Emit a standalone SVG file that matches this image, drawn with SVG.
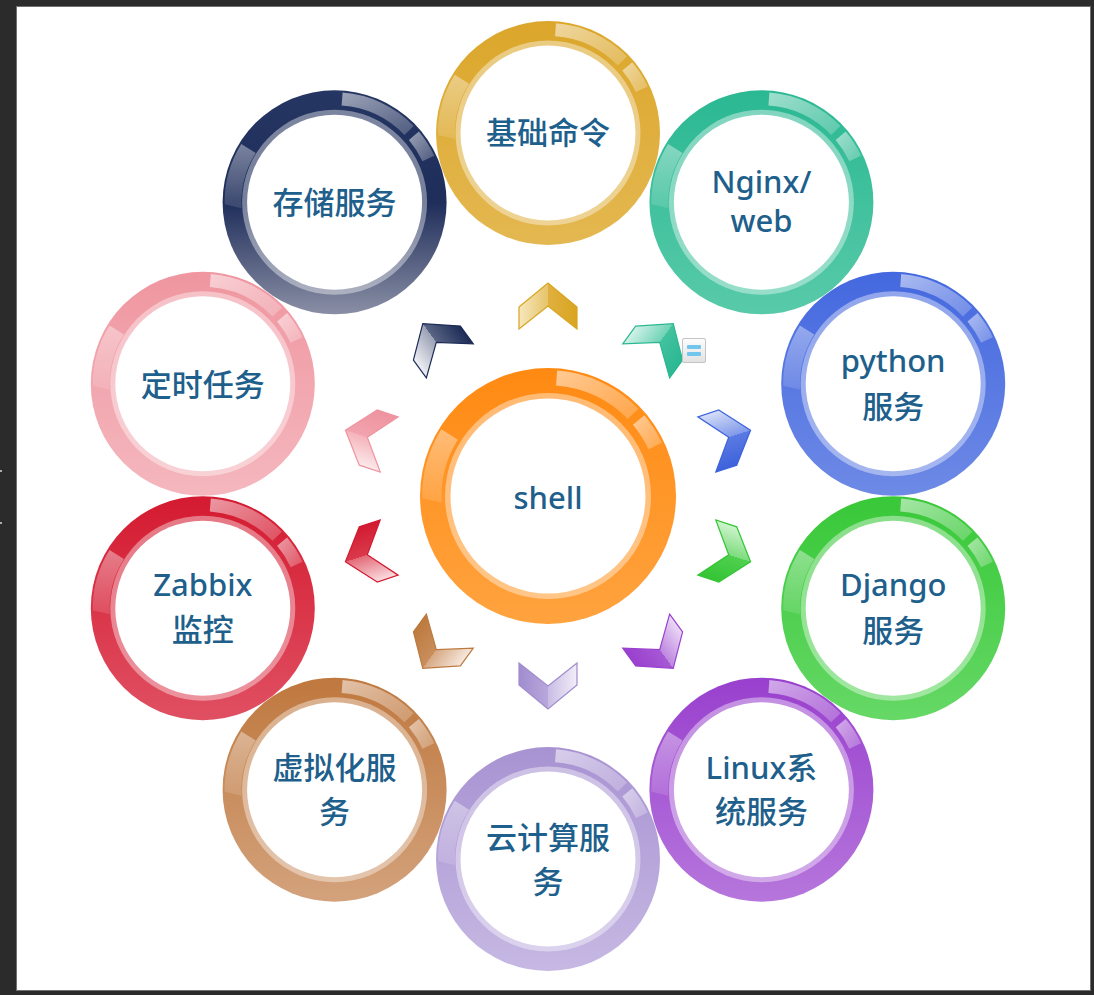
<svg xmlns="http://www.w3.org/2000/svg" xmlns:xlink="http://www.w3.org/1999/xlink" width="1094" height="995" viewBox="0 0 1094 995">
<style>
.t{font-family:"Noto Sans","Noto Sans CJK SC",sans-serif;font-size:31px;font-weight:500;fill:#1e5f8c;text-anchor:middle}
.lr{fill:#fff;opacity:0.4}
.w{fill:#fff}
</style>
<defs>
<linearGradient id="hl" x1="0" y1="0" x2="1" y2="1"><stop offset="0" stop-color="#fff" stop-opacity="0.55"/><stop offset="1" stop-color="#fff" stop-opacity="0.2"/></linearGradient>
<linearGradient id="hl2" x1="0" y1="1" x2="0" y2="0"><stop offset="0" stop-color="#fff" stop-opacity="0.12"/><stop offset="1" stop-color="#fff" stop-opacity="0.4"/></linearGradient>
<g id="gloss">
<path d="M8,-109.7 A110,110 0 0 1 79.1,-76.4 L69.8,-67.4 A97,97 0 0 0 7,-96.7 Z" fill="url(#hl)"/>
<path d="M84.3,-70.7 A110,110 0 0 1 99.7,-46.5 L87.9,-41 A97,97 0 0 0 74.3,-62.4 Z" fill="url(#hl)"/>
<path d="M-110,2 A110,110 0 0 1 -93.3,-58.3 L-78.9,-49.3 A93,93 0 0 0 -93,6 Z" fill="url(#hl2)"/>
</g>
<path id="chev" d="M-29,1 L0,-23 L29,1 L29,23 L0,0 L-29,23 Z"/>
<linearGradient id="r-gold" x1="0" y1="0" x2="0" y2="1"><stop offset="0" stop-color="#dba62a"/><stop offset="1" stop-color="#e4b851"/></linearGradient>
<linearGradient id="r-teal" x1="0" y1="0" x2="0" y2="1"><stop offset="0" stop-color="#2ab892"/><stop offset="1" stop-color="#58caa9"/></linearGradient>
<linearGradient id="r-blue" x1="0" y1="0" x2="0" y2="1"><stop offset="0" stop-color="#4468df"/><stop offset="1" stop-color="#6e8ae6"/></linearGradient>
<linearGradient id="r-green" x1="0" y1="0" x2="0" y2="1"><stop offset="0" stop-color="#38c838"/><stop offset="1" stop-color="#66d866"/></linearGradient>
<linearGradient id="r-purple" x1="0" y1="0" x2="0" y2="1"><stop offset="0" stop-color="#9940ce"/><stop offset="1" stop-color="#b676dc"/></linearGradient>
<linearGradient id="r-lav" x1="0" y1="0" x2="0" y2="1"><stop offset="0" stop-color="#a893d2"/><stop offset="1" stop-color="#c6b8e3"/></linearGradient>
<linearGradient id="r-tan" x1="0" y1="0" x2="0" y2="1"><stop offset="0" stop-color="#bf783e"/><stop offset="1" stop-color="#d3a27c"/></linearGradient>
<linearGradient id="r-red" x1="0" y1="0" x2="0" y2="1"><stop offset="0" stop-color="#d41a30"/><stop offset="1" stop-color="#e05062"/></linearGradient>
<linearGradient id="r-pink" x1="0" y1="0" x2="0" y2="1"><stop offset="0" stop-color="#ef96a0"/><stop offset="1" stop-color="#f5b7be"/></linearGradient>
<linearGradient id="r-navy" x1="0" y1="0" x2="0" y2="1"><stop offset="0" stop-color="#263663"/><stop offset="0.5" stop-color="#1e2d5a"/><stop offset="1" stop-color="#8a8fa5"/></linearGradient>
<linearGradient id="r-orange" x1="0" y1="0" x2="0" y2="1"><stop offset="0" stop-color="#ff8a12"/><stop offset="1" stop-color="#ffa33f"/></linearGradient>
<linearGradient id="c-gold" x1="0" y1="0" x2="1" y2="0"><stop offset="0" stop-color="#f6e7bd"/><stop offset="0.5" stop-color="#e6c46a"/><stop offset="0.5" stop-color="#e0b040"/><stop offset="1" stop-color="#d9a520"/></linearGradient>
<linearGradient id="c-teal" x1="0" y1="0" x2="1" y2="0"><stop offset="0" stop-color="#d2f2e8"/><stop offset="0.5" stop-color="#6fd3b6"/><stop offset="0.5" stop-color="#44c29f"/><stop offset="1" stop-color="#2ab892"/></linearGradient>
<linearGradient id="c-blue" x1="0" y1="0" x2="1" y2="0"><stop offset="0" stop-color="#d6def8"/><stop offset="0.5" stop-color="#8099ea"/><stop offset="0.5" stop-color="#5b7ae3"/><stop offset="1" stop-color="#3e62dc"/></linearGradient>
<linearGradient id="c-green" x1="0" y1="0" x2="1" y2="0"><stop offset="0" stop-color="#cff4cf"/><stop offset="0.5" stop-color="#7ddc7d"/><stop offset="0.5" stop-color="#50d050"/><stop offset="1" stop-color="#34c434"/></linearGradient>
<linearGradient id="c-purple" x1="0" y1="0" x2="1" y2="0"><stop offset="0" stop-color="#ecdaf6"/><stop offset="0.5" stop-color="#bd86e0"/><stop offset="0.5" stop-color="#a658d4"/><stop offset="1" stop-color="#9a40cf"/></linearGradient>
<linearGradient id="c-lav" x1="0" y1="0" x2="1" y2="0"><stop offset="0" stop-color="#f2eef9"/><stop offset="0.5" stop-color="#c9bce4"/><stop offset="0.5" stop-color="#b8a7db"/><stop offset="1" stop-color="#a08ccf"/></linearGradient>
<linearGradient id="c-tan" x1="0" y1="0" x2="1" y2="0"><stop offset="0" stop-color="#f6e9de"/><stop offset="0.5" stop-color="#d7a883"/><stop offset="0.5" stop-color="#c98e5c"/><stop offset="1" stop-color="#bd7a3e"/></linearGradient>
<linearGradient id="c-red" x1="0" y1="0" x2="1" y2="0"><stop offset="0" stop-color="#f9dde0"/><stop offset="0.5" stop-color="#e46a78"/><stop offset="0.5" stop-color="#da3a4c"/><stop offset="1" stop-color="#d21a30"/></linearGradient>
<linearGradient id="c-pink" x1="0" y1="0" x2="1" y2="0"><stop offset="0" stop-color="#fce9eb"/><stop offset="0.5" stop-color="#f4b3ba"/><stop offset="0.5" stop-color="#f2a3ad"/><stop offset="1" stop-color="#ee94a0"/></linearGradient>
<linearGradient id="c-navy" x1="0" y1="0" x2="1" y2="0"><stop offset="0" stop-color="#f0f1f5"/><stop offset="0.5" stop-color="#9aa0b4"/><stop offset="0.5" stop-color="#5a6584"/><stop offset="1" stop-color="#1c2b57"/></linearGradient>
<linearGradient id="note" x1="0" y1="0" x2="0" y2="1"><stop offset="0" stop-color="#fdfdfd"/><stop offset="1" stop-color="#e2e2e2"/></linearGradient>
</defs>

<rect x="0" y="0" width="1094" height="995" fill="#2b2b2b"/>
<rect x="16.5" y="6.5" width="1074" height="984" fill="#fff" stroke="#707070" stroke-width="1"/>
<rect x="0" y="470" width="2" height="2" fill="#b0b0b0"/>
<rect x="0" y="522" width="2" height="2" fill="#b0b0b0"/>

<g id="connectors">
<use xlink:href="#chev" href="#chev" fill="url(#c-gold)" stroke="#d9a520" stroke-width="1.2" transform="translate(548,306)"/>
<use xlink:href="#chev" href="#chev" fill="url(#c-teal)" stroke="#2ab892" stroke-width="1.2" transform="translate(659.7,342.3) rotate(36)"/>
<use xlink:href="#chev" href="#chev" fill="url(#c-blue)" stroke="#3e62dc" stroke-width="1.2" transform="translate(728.7,437.3) rotate(72)"/>
<use xlink:href="#chev" href="#chev" fill="url(#c-green)" stroke="#34c434" stroke-width="1.2" transform="translate(728.7,554.7) rotate(108)"/>
<use xlink:href="#chev" href="#chev" fill="url(#c-purple)" stroke="#9a40cf" stroke-width="1.2" transform="translate(659.7,649.7) rotate(144)"/>
<use xlink:href="#chev" href="#chev" fill="url(#c-lav)" stroke="#a08ccf" stroke-width="1.2" transform="translate(548,686) rotate(180)"/>
<use xlink:href="#chev" href="#chev" fill="url(#c-tan)" stroke="#bd7a3e" stroke-width="1.2" transform="translate(436.3,649.7) rotate(216)"/>
<use xlink:href="#chev" href="#chev" fill="url(#c-red)" stroke="#d21a30" stroke-width="1.2" transform="translate(367.3,554.7) rotate(252)"/>
<use xlink:href="#chev" href="#chev" fill="url(#c-pink)" stroke="#ee94a0" stroke-width="1.2" transform="translate(367.3,437.3) rotate(288)"/>
<use xlink:href="#chev" href="#chev" fill="url(#c-navy)" stroke="#1c2b57" stroke-width="1.2" transform="translate(436.3,342.3) rotate(324)"/>
</g>

<g id="note-icon">
<rect x="682.5" y="338.5" width="23" height="24" rx="1.5" fill="url(#note)" stroke="#c4c4c4"/>
<rect x="687" y="345" width="14" height="4" rx="1" fill="#72c6ee"/>
<rect x="687" y="352" width="14" height="4" rx="1" fill="#72c6ee"/>
</g>

<g id="node-shell" transform="translate(548,496)">
<circle r="128" fill="url(#r-orange)"/>
<use xlink:href="#gloss" href="#gloss" transform="scale(1.143)"/>
<circle r="103" class="lr"/>
<circle r="97.5" class="w"/>
<text class="t" y="13">shell</text>
</g>

<g id="node-jichu" transform="translate(548,133)">
<circle r="112" fill="url(#r-gold)"/>
<use xlink:href="#gloss" href="#gloss"/>
<circle r="92.5" class="lr"/>
<circle r="87.5" class="w"/>
<text class="t" y="11">基础命令</text>
</g>

<g id="node-nginx" transform="translate(761.4,202.3)">
<circle r="112" fill="url(#r-teal)"/>
<use xlink:href="#gloss" href="#gloss"/>
<circle r="92.5" class="lr"/>
<circle r="87.5" class="w"/>
<text class="t" y="-9">Nginx/</text>
<text class="t" y="30">web</text>
</g>

<g id="node-python" transform="translate(893.2,383.8)">
<circle r="112" fill="url(#r-blue)"/>
<use xlink:href="#gloss" href="#gloss"/>
<circle r="92.5" class="lr"/>
<circle r="87.5" class="w"/>
<text class="t" y="-12">python</text>
<text class="t" y="34">服务</text>
</g>

<g id="node-django" transform="translate(893.2,608.2)">
<circle r="112" fill="url(#r-green)"/>
<use xlink:href="#gloss" href="#gloss"/>
<circle r="92.5" class="lr"/>
<circle r="87.5" class="w"/>
<text class="t" y="-12">Django</text>
<text class="t" y="34">服务</text>
</g>

<g id="node-linux" transform="translate(761.4,789.7)">
<circle r="112" fill="url(#r-purple)"/>
<use xlink:href="#gloss" href="#gloss"/>
<circle r="92.5" class="lr"/>
<circle r="87.5" class="w"/>
<text class="t" y="-11">Linux系</text>
<text class="t" y="33">统服务</text>
</g>

<g id="node-yun" transform="translate(548,859)">
<circle r="112" fill="url(#r-lav)"/>
<use xlink:href="#gloss" href="#gloss"/>
<circle r="92.5" class="lr"/>
<circle r="87.5" class="w"/>
<text class="t" y="-10">云计算服</text>
<text class="t" y="34">务</text>
</g>

<g id="node-xuni" transform="translate(334.6,789.7)">
<circle r="112" fill="url(#r-tan)"/>
<use xlink:href="#gloss" href="#gloss"/>
<circle r="92.5" class="lr"/>
<circle r="87.5" class="w"/>
<text class="t" y="-11">虚拟化服</text>
<text class="t" y="33">务</text>
</g>

<g id="node-zabbix" transform="translate(202.8,608.2)">
<circle r="112" fill="url(#r-red)"/>
<use xlink:href="#gloss" href="#gloss"/>
<circle r="92.5" class="lr"/>
<circle r="87.5" class="w"/>
<text class="t" y="-12">Zabbix</text>
<text class="t" y="33">监控</text>
</g>

<g id="node-dingshi" transform="translate(202.8,383.8)">
<circle r="112" fill="url(#r-pink)"/>
<use xlink:href="#gloss" href="#gloss"/>
<circle r="92.5" class="lr"/>
<circle r="87.5" class="w"/>
<text class="t" y="12">定时任务</text>
</g>

<g id="node-cunchu" transform="translate(334.6,202.3)">
<circle r="112" fill="url(#r-navy)"/>
<use xlink:href="#gloss" href="#gloss"/>
<circle r="92.5" class="lr"/>
<circle r="87.5" class="w"/>
<text class="t" y="12">存储服务</text>
</g>
</svg>
